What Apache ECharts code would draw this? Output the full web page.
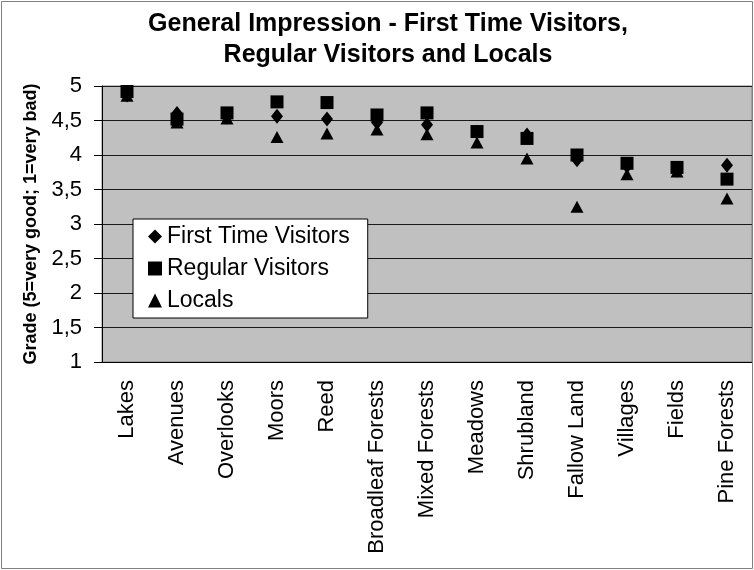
<!DOCTYPE html>
<html>
<head>
<meta charset="utf-8">
<script src="https://cdn.jsdelivr.net/npm/echarts@6/dist/echarts.min.js"></script>
<style>
html, body { margin: 0; padding: 0; background: #fff; }
#main { width: 754px; height: 570px; }
</style>
</head>
<body>
<div id="main"></div>
<script>
var categories = ['Lakes', 'Avenues', 'Overlooks', 'Moors', 'Reed', 'Broadleaf Forests',
    'Mixed Forests', 'Meadows', 'Shrubland', 'Fallow Land', 'Villages', 'Fields', 'Pine Forests'];
var firstTimeVisitors = [4.87, 4.60, 4.55, 4.56, 4.52, 4.47, 4.44, 4.33, 4.29, 3.93, 3.84, 3.78, 3.85];
var regularVisitors = [4.92, 4.52, 4.61, 4.77, 4.76, 4.58, 4.61, 4.34, 4.24, 4.00, 3.88, 3.82, 3.65];
var locals = [4.86, 4.47, 4.53, 4.26, 4.31, 4.37, 4.30, 4.18, 3.95, 3.25, 3.72, 3.76, 3.37];

var font = 'Liberation Sans, Arial, sans-serif';
var myChart = echarts.init(document.getElementById('main'));

var option = {
    backgroundColor: '#fff',
    animation: false,
    title: {
        text: 'General Impression - First Time Visitors,\nRegular Visitors and Locals',
        left: 383,
        textAlign: 'center',
        top: 4,
        textStyle: {
            fontFamily: font,
            fontSize: 25,
            fontWeight: 'bold',
            color: '#000',
            lineHeight: 31
        }
    },
    legend: {
        orient: 'vertical',
        left: 133,
        top: 219,
        padding: [6, 18, 6, 15],
        itemGap: 9,
        itemWidth: 14,
        itemHeight: 14,
        backgroundColor: '#fff',
        borderColor: '#000',
        borderWidth: 1,
        borderRadius: 0,
        textStyle: { fontFamily: font, fontSize: 23, color: '#000' },
        data: [
            { name: 'First Time Visitors', icon: 'diamond' },
            { name: 'Regular Visitors', icon: 'rect' },
            { name: 'Locals', icon: 'triangle' }
        ]
    },
    grid: {
        left: 102,
        right: 2,
        top: 86,
        bottom: 208,
        show: true,
        backgroundColor: '#c0c0c0',
        borderColor: '#808080',
        borderWidth: 1
    },
    xAxis: {
        type: 'category',
        data: categories,
        boundaryGap: true,
        axisLine: { lineStyle: { color: '#000', width: 1 } },
        axisTick: { length: 8, lineStyle: { color: '#000' } },
        axisLabel: {
            rotate: 90,
            margin: 18,
            interval: 0,
            fontFamily: font,
            fontSize: 22,
            color: '#000'
        },
        splitLine: { show: false }
    },
    yAxis: {
        type: 'value',
        min: 1,
        max: 5,
        interval: 0.5,
        name: 'Grade (5=very good; 1=very bad)',
        nameLocation: 'middle',
        nameRotate: 90,
        nameGap: 62,
        nameTextStyle: { fontFamily: font, fontSize: 18, fontWeight: 'bold', color: '#000' },
        axisLine: { show: true, lineStyle: { color: '#000', width: 1 } },
        axisTick: { show: true, length: 8, lineStyle: { color: '#000' } },
        axisLabel: {
            margin: 20,
            fontFamily: font,
            fontSize: 22,
            color: '#000',
            formatter: function (v) {
                return String(v).replace('.', ',');
            }
        },
        splitLine: { lineStyle: { color: '#1a1a1a', width: 1 } }
    },
    series: [{
        name: 'First Time Visitors',
        type: 'scatter',
        symbol: 'diamond',
        symbolSize: [12, 15],
        itemStyle: { color: '#000', opacity: 1 },
        data: firstTimeVisitors
    }, {
        name: 'Regular Visitors',
        type: 'scatter',
        symbol: 'rect',
        symbolSize: 13,
        itemStyle: { color: '#000', opacity: 1 },
        data: regularVisitors
    }, {
        name: 'Locals',
        type: 'scatter',
        symbol: 'triangle',
        symbolSize: [13, 12],
        itemStyle: { color: '#000', opacity: 1 },
        data: locals
    }],
    graphic: [{
        type: 'rect',
        z: 100,
        silent: true,
        shape: { x: 1.5, y: 1.5, width: 751, height: 567 },
        style: { fill: null, stroke: '#808080', lineWidth: 1 }
    }]
};

myChart.setOption(option);
</script>
</body>
</html>
